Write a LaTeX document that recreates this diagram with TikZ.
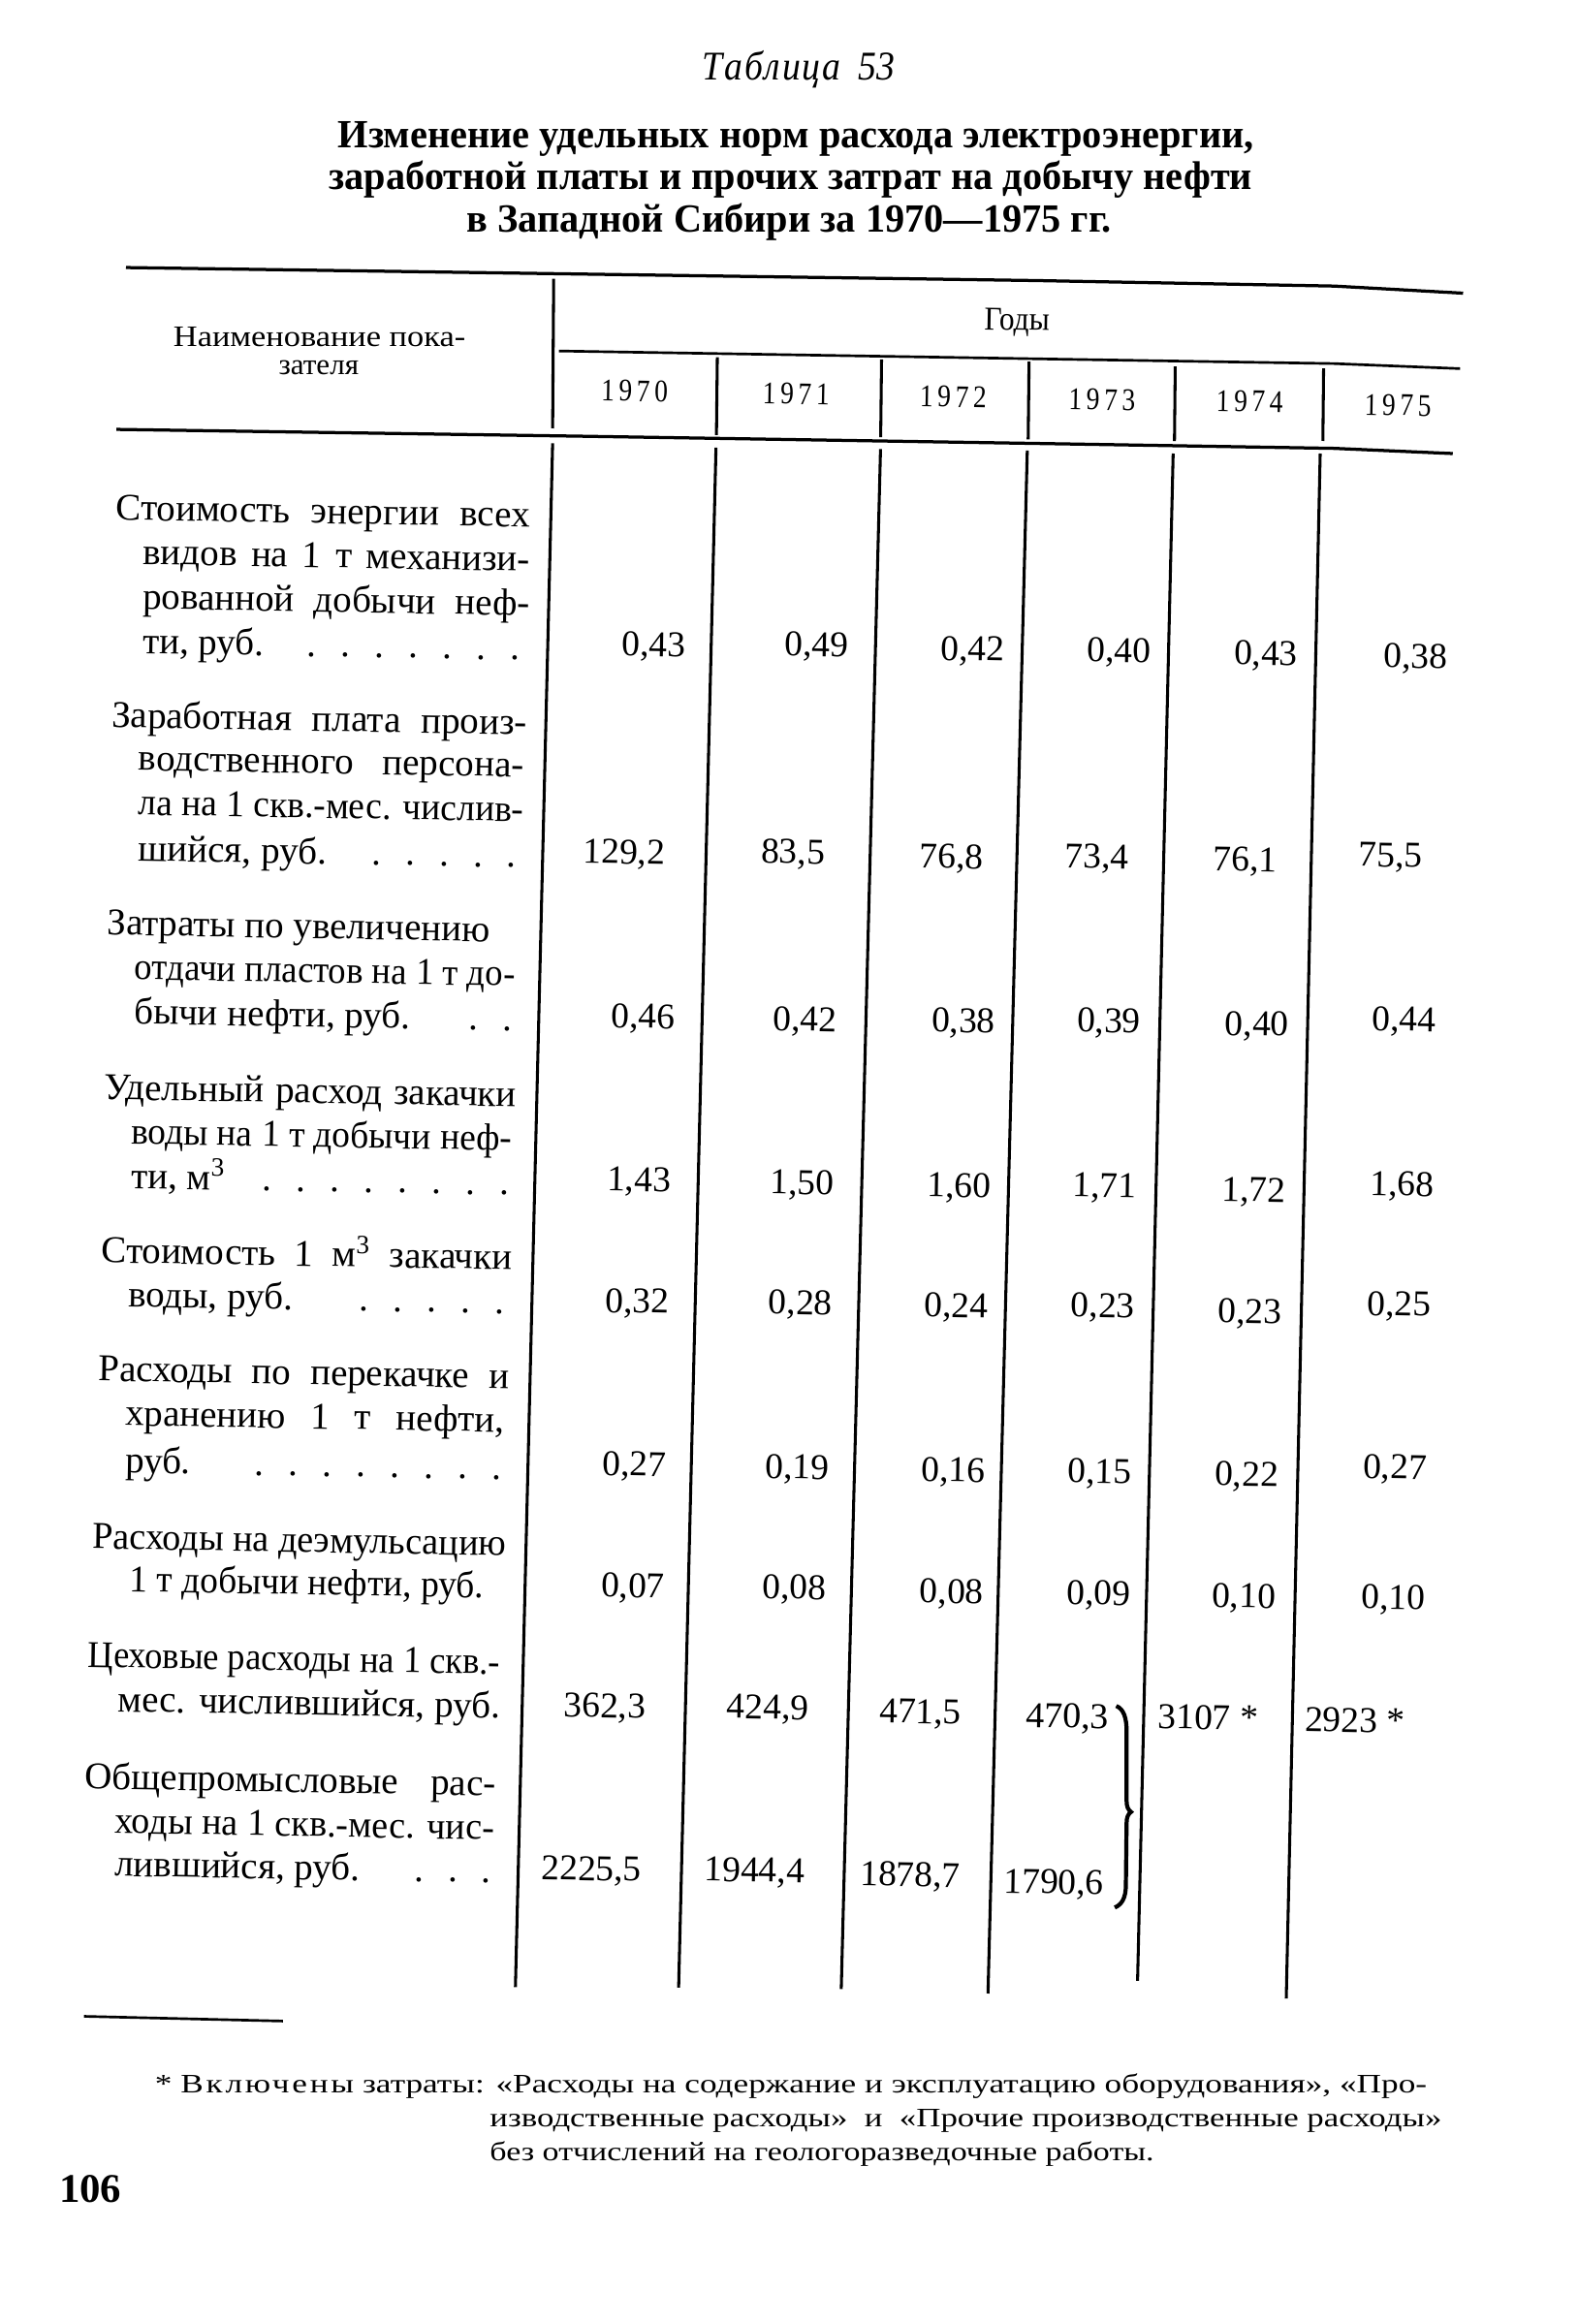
\documentclass[tikz,border=0pt]{standalone}
\usepackage{fontspec}
\setmainfont{Liberation Serif}
\usepackage{graphicx}
\newdimen\ul \ul=0.4pt
\newcommand\jl[2]{\sbox0{#2}\ifdim\wd0>#1\ul\resizebox{#1\ul}{\height}{#2}\else\makebox[#1\ul][s]{#2}\fi}
\newcommand\fw[2]{\resizebox{#1\ul}{\height}{#2}}
\newcommand\dsp{\hspace{6.6pt}}
\newcommand\dt{.\dsp}
\tikzset{
  stub/.style={anchor=mid west, inner sep=0pt, rotate=-1, font=\fontsize{10.2}{12}\selectfont},
  num/.style={anchor=mid, inner sep=0pt, rotate=-1, font=\fontsize{9.8}{12}\selectfont},
  hdr/.style={anchor=mid, inner sep=0pt, rotate=-1, font=\fontsize{8.5}{10}\selectfont},
  ttl/.style={anchor=mid, inner sep=0pt, font=\fontsize{10.8}{13}\bfseries},
  fn/.style={anchor=mid west, inner sep=0pt, font=\fontsize{7.2}{9}\selectfont},
  heavy/.style={line width=0.85pt},
  rule/.style={line width=0.7pt},
  vline/.style={line width=0.8pt}
}
\begin{document}
\begin{tikzpicture}[x=0.4pt, y=-0.4pt]
\fill[white] (0,0) rectangle (1064,1568);
\path[use as bounding box] (0,0) rectangle (1064,1568);

% ---- titles
\node[anchor=mid, inner sep=0pt, font=\fontsize{11}{13}\selectfont\itshape] (tab) at (539,48) {\fw{130}{Т\kern0.5pt а\kern0.5pt б\kern0.5pt л\kern0.5pt и\kern0.5pt ц\kern0.5pt а\ \ 53}};
\node[ttl] (t1) at (537,94) {\fw{618}{Изменение удельных норм расхода электроэнергии,}};
\node[ttl] (t2) at (533.5,122) {\fw{623}{заработной платы и прочих затрат на добычу нефти}};
\node[ttl] (t3) at (532.5,151) {\fw{435}{в Западной Сибири за 1970—1975 гг.}};

% ---- header rules
\draw[heavy] (85,180.5) -- (700,189.3) -- (900,193) -- (987,197.8);
\draw[rule] (377,236.8) -- (719,242.4) -- (900,245.3) -- (985,248.7);
\draw[heavy] (78.5,289.7) -- (392,294.3) -- (719,299.5) -- (900,302.5) -- (980,306);
\draw[vline] (373.5,188) -- (372.8,289);
\draw[vline] (483.9,241) -- (483.3,293.5);
\draw[vline] (594.7,242.5) -- (594.1,295);
\draw[vline] (694.2,244) -- (693.6,296.5);
\draw[vline] (792.8,247.2) -- (792.3,297.6);
\draw[vline] (892.9,248.5) -- (892.4,297.5);

% ---- header text
\node[hdr, rotate=1, font=\fontsize{8}{9}\selectfont] (h1) at (215.5,228) {\fw{197}{Наименование пока-}};
\node[hdr, rotate=1, font=\fontsize{8}{9}\selectfont] (h2) at (215,247) {\fw{54}{зателя}};
\node[hdr, font=\fontsize{9}{10}\selectfont] (gody) at (686,217) {\fw{44}{Годы}};
\node[hdr] (y0) at (428,265) {\fw{45}{1\,9\,7\,0}};
\node[hdr] (y1) at (537,267) {\fw{45}{1\,9\,7\,1}};
\node[hdr] (y2) at (643,269) {\fw{45}{1\,9\,7\,2}};
\node[hdr] (y3) at (743.4,271) {\fw{45}{1\,9\,7\,3}};
\node[hdr] (y4) at (843,272) {\fw{45}{1\,9\,7\,4}};
\node[hdr] (y5) at (943,274.7) {\fw{45}{1\,9\,7\,5}};

% ---- body verticals
\draw[vline] (372.8,299) -- (347.7,1340.7);
\draw[vline] (483,302) -- (457.8,1341);
\draw[vline] (594,303) -- (567.5,1342);
\draw[vline] (693,304) -- (666.5,1345);
\draw[vline] (791.4,306) -- (767.4,1336.4);
\draw[vline] (890.6,306) -- (867.7,1348.4);

% ---- stub texts
\node[stub] (r1a) at (78,345) {\jl{279}{Стоимость энергии всех}};
\node[stub] (r1b) at (96,375) {\jl{261}{видов на 1 т механизи-}};
\node[stub] (r1c) at (96,405) {\jl{261}{рованной добычи неф-}};
\node[stub] (r1d) at (96,435) {\jl{254}{ти, руб.\hfill\dt\dt\dt\dt\dt\dt.}};

\node[stub] (r2a) at (75,485) {\jl{280}{Заработная плата произ-}};
\node[stub] (r2b) at (93,514) {\jl{260}{водственного персона-}};
\node[stub] (r2c) at (93,544) {\jl{260}{ла на 1 скв.-мес. числив-}};
\node[stub] (r2d) at (93,575) {\jl{255}{шийся, руб.\hfill\dt\dt\dt\dt.}};

\node[stub] (r3a) at (72,625) {\jl{258}{Затраты по увеличению}};
\node[stub] (r3b) at (90,655) {\jl{257}{отдачи пластов на 1 т до-}};
\node[stub] (r3c) at (90,685) {\jl{255}{бычи нефти, руб.\hfill\dt.}};

\node[stub] (r4a) at (70,736) {\jl{278}{Удельный расход закачки}};
\node[stub] (r4b) at (88,766) {\jl{257}{воды на 1 т добычи неф-}};
\node[stub] (r4c) at (88,796) {\jl{255}{ти, м\textsuperscript{3}\hfill\dt\dt\dt\dt\dt\dt\dt.}};

\node[stub] (r5a) at (68,846) {\jl{277}{Стоимость 1 м\textsuperscript{3} закачки}};
\node[stub] (r5b) at (86,876) {\jl{254}{воды, руб.\hfill\dt\dt\dt\dt.}};

\node[stub] (r6a) at (66,926) {\jl{277}{Расходы по перекачке и}};
\node[stub] (r6b) at (84,956) {\jl{256}{хранению 1 т нефти,}};
\node[stub] (r6c) at (84,988) {\jl{254}{руб.\hfill\dt\dt\dt\dt\dt\dt\dt.}};

\node[stub] (r7a) at (62,1039) {\jl{279}{Расходы на деэмульсацию}};
\node[stub] (r7b) at (87,1068) {\jl{239}{1 т добычи нефти, руб.}};

\node[stub] (r8a) at (59,1119) {\jl{278}{Цеховые расходы на 1 скв.-}};
\node[stub] (r8b) at (79,1149) {\jl{258}{мес. числившийся, руб.}};

\node[stub] (r9a) at (57,1201) {\jl{277}{Общепромысловые рас-}};
\node[stub] (r9b) at (77,1231) {\jl{256}{ходы на 1 скв.-мес. чис-}};
\node[stub] (r9c) at (77,1260) {\jl{254}{лившийся, руб.\hfill\dt\dt.}};

% ---- values
\node[num] (v11) at (441,437) {0,43};
\node[num] (v12) at (551,437) {0,49};
\node[num] (v13) at (656,440) {0,42};
\node[num] (v14) at (755,441) {0,40};
\node[num] (v15) at (854,443) {0,43};
\node[num] (v16) at (955,445) {0,38};

\node[num] (v21) at (421,577) {129,2};
\node[num] (v22) at (535,577) {83,5};
\node[num] (v23) at (642,580) {76,8};
\node[num] (v24) at (740,580) {73,4};
\node[num] (v25) at (840,582) {76,1};
\node[num] (v26) at (938,579) {75,5};

\node[num] (v31) at (434,688) {0,46};
\node[num] (v32) at (543,690) {0,42};
\node[num] (v33) at (650,691) {0,38};
\node[num] (v34) at (748,691) {0,39};
\node[num] (v35) at (848,693) {0,40};
\node[num] (v36) at (947,690) {0,44};

\node[num] (v41) at (431,798) {1,43};
\node[num] (v42) at (541,800) {1,50};
\node[num] (v43) at (647,802) {1,60};
\node[num] (v44) at (745,802) {1,71};
\node[num] (v45) at (846,805) {1,72};
\node[num] (v46) at (946,801) {1,68};

\node[num] (v51) at (430,880) {0,32};
\node[num] (v52) at (540,881) {0,28};
\node[num] (v53) at (645,883) {0,24};
\node[num] (v54) at (744,883) {0,23};
\node[num] (v55) at (843,887) {0,23};
\node[num] (v56) at (944,882) {0,25};

\node[num] (v61) at (428,990) {0,27};
\node[num] (v62) at (538,992) {0,19};
\node[num] (v63) at (643,994) {0,16};
\node[num] (v64) at (742,995) {0,15};
\node[num] (v65) at (841,997) {0,22};
\node[num] (v66) at (941,992) {0,27};

\node[num] (v71) at (427,1072) {0,07};
\node[num] (v72) at (536,1073) {0,08};
\node[num] (v73) at (642,1076) {0,08};
\node[num] (v74) at (741,1077) {0,09};
\node[num] (v75) at (839,1079) {0,10};
\node[num] (v76) at (940,1080) {0,10};

\node[num] (v81) at (408,1153) {362,3};
\node[num] (v82) at (518,1154) {424,9};
\node[num] (v83) at (621,1157) {471,5};
\node[num] (v84) at (720,1160) {\fw{56}{470,3}};
\node[num] (v85) at (815,1161) {3107 *};
\node[num] (v86) at (914,1163) {2923 *};

\node[num] (v91) at (399,1263) {2225,5};
\node[num] (v92) at (509,1264) {1944,4};
\node[num] (v93) at (614,1267) {1878,7};
\node[num] (v94) at (711,1272) {1790,6};

% brace
\draw[line width=1.1pt] (753,1151) .. controls (758,1153) and (760,1159) .. (760,1168)
  -- (760,1215) .. controls (760,1219) and (761,1221) .. (763,1222.5)
  .. controls (761,1224) and (760,1226) .. (760,1230)
  -- (759.5,1272) .. controls (759.5,1280) and (757,1285) .. (752,1287);

% ---- footnote
\draw[rule] (56.7,1360.4) -- (190.8,1363.6);
\node[fn] (f1) at (104,1406) {\fw{858}{* {\addfontfeature{LetterSpace=8}Включены} затраты: «Расходы на содержание и эксплуатацию оборудования», «Про-}};
\node[fn] (f2) at (330,1429) {\fw{642}{изводственные расходы» \ и \ «Прочие производственные расходы»}};
\node[fn] (f3) at (330,1452) {\fw{448}{без отчислений на геологоразведочные работы.}};
\node[anchor=mid, inner sep=0pt, font=\fontsize{11}{13}\bfseries] (pg) at (61,1480) {\fw{42}{106}};
\end{tikzpicture}
\end{document}
